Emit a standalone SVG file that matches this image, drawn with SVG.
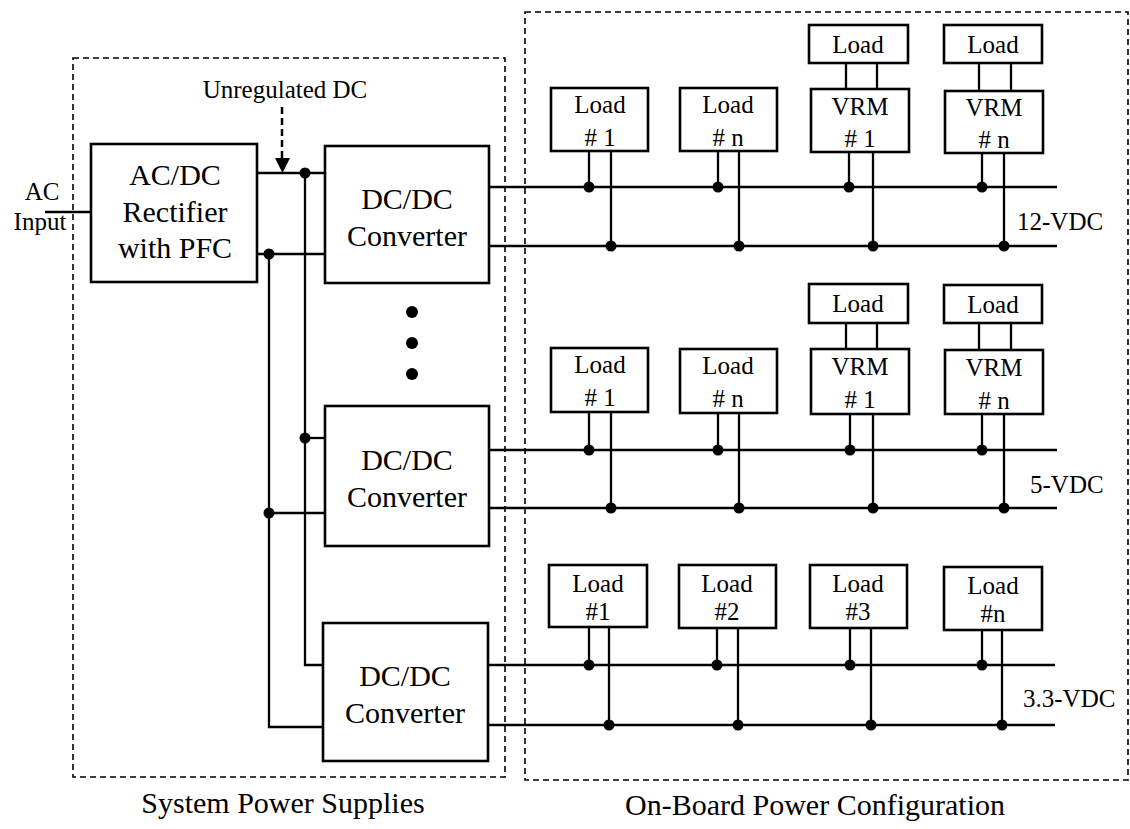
<svg xmlns="http://www.w3.org/2000/svg" width="1130" height="829" viewBox="0 0 1130 829">
<style>
text{font-family:"Liberation Serif","Times New Roman",serif;fill:#000;text-anchor:middle}
.big{font-size:30px}
.sm{font-size:25px}
.ttl{font-size:30px}
.lbl{font-size:25px;text-anchor:start}
.box{fill:#fff;stroke:#000;stroke-width:2.6}
.dash{fill:none;stroke:#000;stroke-width:1.6;stroke-dasharray:6,4}
.w{fill:none;stroke:#000;stroke-width:2.3}
.dot{fill:#000}
</style>
<rect width="1130" height="829" fill="#fff"/>
<g id="frames">
<rect class="dash" x="73" y="58" width="432" height="719"/>
<rect class="dash" x="525" y="12" width="603" height="768"/>
<text class="ttl" x="283" y="813">System Power Supplies</text>
<text class="ttl" x="815" y="815">On-Board Power Configuration</text>
</g>
<g id="connectors">
<line class="w" x1="45" y1="212" x2="91" y2="212"/>
<line class="w" x1="257" y1="173" x2="325" y2="173"/>
<line class="w" x1="257" y1="254" x2="325" y2="254"/>
<polyline class="w" points="305,173 305,665 323,665"/>
<polyline class="w" points="269,254 269,727 323,727"/>
<line class="w" x1="305" y1="438" x2="325" y2="438"/>
<line class="w" x1="269" y1="513" x2="325" y2="513"/>
<circle class="dot" cx="305" cy="173" r="5.5"/>
<circle class="dot" cx="269" cy="254" r="5.5"/>
<circle class="dot" cx="305" cy="438" r="5.5"/>
<circle class="dot" cx="269" cy="513" r="5.5"/>
<line x1="282" y1="107" x2="282" y2="158" stroke="#000" stroke-width="2.5" stroke-dasharray="7,4"/>
<polygon points="275,158 290,158 282.5,173" fill="#000"/>
<line class="w" x1="489" y1="187" x2="1057" y2="187"/>
<line class="w" x1="489" y1="246" x2="1057" y2="246"/>
<line class="w" x1="489" y1="450" x2="1057" y2="450"/>
<line class="w" x1="489" y1="508" x2="1057" y2="508"/>
<line class="w" x1="488" y1="665" x2="1055" y2="665"/>
<line class="w" x1="488" y1="725" x2="1055" y2="725"/>
<line class="w" x1="589" y1="151" x2="589" y2="187"/><circle class="dot" cx="589" cy="187" r="5.5"/>
<line class="w" x1="611" y1="151" x2="611" y2="246"/><circle class="dot" cx="611" cy="246" r="5.5"/>
<line class="w" x1="718" y1="151" x2="718" y2="187"/><circle class="dot" cx="718" cy="187" r="5.5"/>
<line class="w" x1="739" y1="151" x2="739" y2="246"/><circle class="dot" cx="739" cy="246" r="5.5"/>
<line class="w" x1="849" y1="152" x2="849" y2="187"/><circle class="dot" cx="849" cy="187" r="5.5"/>
<line class="w" x1="873" y1="152" x2="873" y2="246"/><circle class="dot" cx="873" cy="246" r="5.5"/>
<line class="w" x1="982" y1="153" x2="982" y2="187"/><circle class="dot" cx="982" cy="187" r="5.5"/>
<line class="w" x1="1004" y1="153" x2="1004" y2="246"/><circle class="dot" cx="1004" cy="246" r="5.5"/>
<line class="w" x1="846" y1="63" x2="846" y2="89"/>
<line class="w" x1="877" y1="63" x2="877" y2="89"/>
<line class="w" x1="979" y1="63" x2="979" y2="91"/>
<line class="w" x1="1011" y1="63" x2="1011" y2="91"/>
<line class="w" x1="589" y1="412" x2="589" y2="450"/><circle class="dot" cx="589" cy="450" r="5.5"/>
<line class="w" x1="611" y1="412" x2="611" y2="508"/><circle class="dot" cx="611" cy="508" r="5.5"/>
<line class="w" x1="718" y1="413" x2="718" y2="450"/><circle class="dot" cx="718" cy="450" r="5.5"/>
<line class="w" x1="739" y1="413" x2="739" y2="508"/><circle class="dot" cx="739" cy="508" r="5.5"/>
<line class="w" x1="850" y1="414" x2="850" y2="450"/><circle class="dot" cx="850" cy="450" r="5.5"/>
<line class="w" x1="873" y1="414" x2="873" y2="508"/><circle class="dot" cx="873" cy="508" r="5.5"/>
<line class="w" x1="982" y1="414" x2="982" y2="450"/><circle class="dot" cx="982" cy="450" r="5.5"/>
<line class="w" x1="1004" y1="414" x2="1004" y2="508"/><circle class="dot" cx="1004" cy="508" r="5.5"/>
<line class="w" x1="846" y1="323" x2="846" y2="349"/>
<line class="w" x1="877" y1="323" x2="877" y2="349"/>
<line class="w" x1="979" y1="323" x2="979" y2="350"/>
<line class="w" x1="1011" y1="323" x2="1011" y2="350"/>
<line class="w" x1="589" y1="627" x2="589" y2="665"/><circle class="dot" cx="589" cy="665" r="5.5"/>
<line class="w" x1="609" y1="627" x2="609" y2="725"/><circle class="dot" cx="609" cy="725" r="5.5"/>
<line class="w" x1="717" y1="628" x2="717" y2="665"/><circle class="dot" cx="717" cy="665" r="5.5"/>
<line class="w" x1="738" y1="628" x2="738" y2="725"/><circle class="dot" cx="738" cy="725" r="5.5"/>
<line class="w" x1="850" y1="628" x2="850" y2="665"/><circle class="dot" cx="850" cy="665" r="5.5"/>
<line class="w" x1="871" y1="628" x2="871" y2="725"/><circle class="dot" cx="871" cy="725" r="5.5"/>
<line class="w" x1="982" y1="630" x2="982" y2="665"/><circle class="dot" cx="982" cy="665" r="5.5"/>
<line class="w" x1="1002" y1="630" x2="1002" y2="725"/><circle class="dot" cx="1002" cy="725" r="5.5"/>
<circle class="dot" cx="412" cy="312" r="6"/>
<circle class="dot" cx="412" cy="343" r="6"/>
<circle class="dot" cx="412" cy="374" r="6"/>
</g>
<g id="labels">
<text class="sm" x="42" y="200">AC</text>
<text class="sm" x="40" y="230">Input</text>
<text class="sm" x="285" y="98">Unregulated DC</text>
<text class="lbl" x="1017" y="230">12-VDC</text>
<text class="lbl" x="1030" y="493">5-VDC</text>
<text class="lbl" x="1023" y="707">3.3-VDC</text>
</g>
<g id="rectifier">
<rect class="box" x="91" y="144" width="166" height="138"/>
<text class="big" x="175" y="185">AC/DC</text>
<text class="big" x="175" y="222">Rectifier</text>
<text class="big" x="175" y="258">with PFC</text>
</g>
<g id="converter1">
<rect class="box" x="325" y="146" width="164" height="137"/>
<text class="big" x="407" y="209">DC/DC</text>
<text class="big" x="407" y="246">Converter</text>
</g>
<g id="converter2">
<rect class="box" x="325" y="406" width="164" height="140"/>
<text class="big" x="407" y="470">DC/DC</text>
<text class="big" x="407" y="507">Converter</text>
</g>
<g id="converter3">
<rect class="box" x="323" y="623" width="165" height="138"/>
<text class="big" x="405" y="686">DC/DC</text>
<text class="big" x="405" y="723">Converter</text>
</g>
<g id="r1-load1"><rect class="box" x="551" y="88" width="97" height="63"/><text class="sm" x="600" y="113">Load</text><text class="sm" x="600" y="146"># 1</text></g>
<g id="r1-loadn"><rect class="box" x="680" y="88" width="97" height="63"/><text class="sm" x="728" y="113">Load</text><text class="sm" x="728" y="146"># n</text></g>
<g id="r1-vrm1-load"><rect class="box" x="809" y="25" width="99" height="38"/><text class="sm" x="858" y="53">Load</text></g>
<g id="r1-vrm1"><rect class="box" x="811" y="89" width="98" height="63"/><text class="sm" x="860" y="115">VRM</text><text class="sm" x="860" y="147"># 1</text></g>
<g id="r1-vrmn-load"><rect class="box" x="944" y="25" width="98" height="38"/><text class="sm" x="993" y="53">Load</text></g>
<g id="r1-vrmn"><rect class="box" x="945" y="91" width="98" height="62"/><text class="sm" x="994" y="116">VRM</text><text class="sm" x="994" y="148"># n</text></g>
<g id="r2-load1"><rect class="box" x="551" y="348" width="97" height="64"/><text class="sm" x="600" y="373">Load</text><text class="sm" x="600" y="406"># 1</text></g>
<g id="r2-loadn"><rect class="box" x="680" y="349" width="97" height="64"/><text class="sm" x="728" y="374">Load</text><text class="sm" x="728" y="407"># n</text></g>
<g id="r2-vrm1-load"><rect class="box" x="809" y="284" width="99" height="39"/><text class="sm" x="858" y="312">Load</text></g>
<g id="r2-vrm1"><rect class="box" x="811" y="349" width="98" height="65"/><text class="sm" x="860" y="375">VRM</text><text class="sm" x="860" y="408"># 1</text></g>
<g id="r2-vrmn-load"><rect class="box" x="944" y="285" width="98" height="38"/><text class="sm" x="993" y="313">Load</text></g>
<g id="r2-vrmn"><rect class="box" x="945" y="350" width="98" height="64"/><text class="sm" x="994" y="376">VRM</text><text class="sm" x="994" y="409"># n</text></g>
<g id="r3-load1"><rect class="box" x="549" y="565" width="98" height="62"/><text class="sm" x="598" y="592">Load</text><text class="sm" x="598" y="620">#1</text></g>
<g id="r3-load2"><rect class="box" x="679" y="565" width="97" height="63"/><text class="sm" x="727" y="592">Load</text><text class="sm" x="727" y="620">#2</text></g>
<g id="r3-load3"><rect class="box" x="810" y="565" width="97" height="63"/><text class="sm" x="858" y="592">Load</text><text class="sm" x="858" y="620">#3</text></g>
<g id="r3-loadn"><rect class="box" x="944" y="567" width="98" height="63"/><text class="sm" x="993" y="594">Load</text><text class="sm" x="993" y="622">#n</text></g>
</svg>
